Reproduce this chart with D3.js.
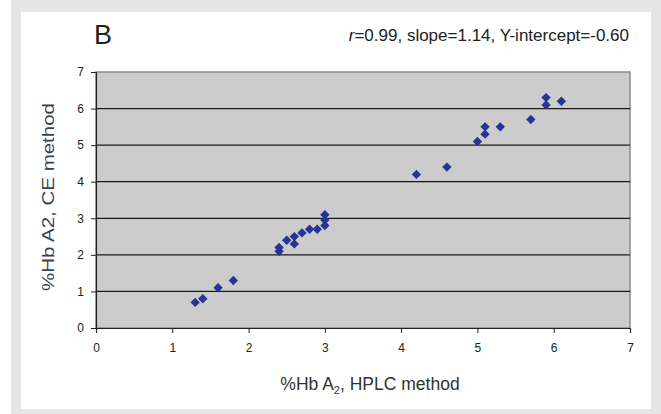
<!DOCTYPE html>
<html>
<head>
<meta charset="utf-8">
<script src="https://cdn.jsdelivr.net/npm/d3@7"></script>
<style>
  body { margin: 0; background: #fff; }
  text { font-family: "Liberation Sans", Arial, sans-serif; }
</style>
</head>
<body>
<svg></svg>
<script>
// %Hb A2 by HPLC (x) vs by CE (y)
const hplc = [1.3, 1.4, 1.6, 1.8, 2.4, 2.4, 2.5, 2.6, 2.6, 2.7, 2.8, 2.9, 3.0, 3.0, 3.0,
  4.2, 4.6, 5.0, 5.1, 5.1, 5.3, 5.7, 5.9, 5.9, 6.1];
const ce = [0.7, 0.8, 1.1, 1.3, 2.1, 2.2, 2.4, 2.3, 2.5, 2.6, 2.7, 2.7, 2.8, 2.95, 3.1,
  4.2, 4.4, 5.1, 5.3, 5.5, 5.5, 5.7, 6.1, 6.3, 6.2];
const xTicks = [0, 1, 2, 3, 4, 5, 6, 7];
const yTicks = [0, 1, 2, 3, 4, 5, 6, 7];

const width = 661;
const height = 414;
const marginLeft = 96;
const marginRight = 31;
const marginTop = 72;
const marginBottom = 86;

const svg = d3.select("svg").attr("width", width).attr("height", height);

// frame
svg.append("rect").attr("x", 11).attr("y", 0).attr("width", width - 11).attr("height", height).attr("fill", "#e6e6e6");
svg.append("rect").attr("x", 21).attr("y", 12).attr("width", 630).attr("height", 397).attr("fill", "#fff");

const x = d3.scaleLinear([0, 7], [marginLeft, width - marginRight]);
const y = d3.scaleLinear([0, 7], [height - marginBottom, marginTop]);

// plot area
svg.append("rect")
  .attr("x", x(0)).attr("y", y(7))
  .attr("width", x(7) - x(0)).attr("height", y(0) - y(7))
  .attr("fill", "#cccccc")
  .attr("stroke", "#8a8a8a").attr("stroke-width", 1.5);

// gridlines
svg.append("g")
  .selectAll("line")
  .data(yTicks.filter(d => d > 0 && d < 7))
  .enter()
  .append("line")
  .attr("x1", x(0)).attr("x2", x(7))
  .attr("y1", d => y(d)).attr("y2", d => y(d))
  .attr("stroke", "#1a1a1a").attr("stroke-width", 1.2);

const xAxis = svg.append("g")
  .attr("transform", `translate(0, ${y(0)})`)
  .call(d3.axisBottom(x).tickValues(xTicks).tickFormat(d3.format("d")).tickSize(5).tickPadding(10));

const yAxis = svg.append("g")
  .attr("transform", `translate(${x(0)},0)`)
  .call(d3.axisLeft(y).tickValues(yTicks).tickFormat(d3.format("d")).tickSize(5).tickPadding(7));

[xAxis, yAxis].forEach(g => {
  g.select(".domain").attr("stroke", "#222").attr("stroke-width", 1.2);
  g.selectAll(".tick line").attr("stroke", "#222");
  g.selectAll(".tick text").attr("font-size", 12).attr("fill", "#222")
    .attr("font-family", "Liberation Sans, Arial, sans-serif");
});

// points
svg.append("g")
  .selectAll("path")
  .data(hplc)
  .enter()
  .append("path")
  .attr("d", d3.symbol(d3.symbolSquare, 44))
  .attr("transform", (d, i) => `translate(${x(d)},${y(ce[i])}) rotate(45)`)
  .attr("fill", "#263592");

// titles
svg.append("text")
  .attr("x", 94).attr("y", 44)
  .attr("font-size", 27).attr("fill", "#222")
  .text("B");

const note = svg.append("text")
  .attr("x", 629).attr("y", 41)
  .attr("text-anchor", "end")
  .attr("font-size", 17).attr("fill", "#222");
note.append("tspan").attr("font-style", "italic").text("r");
note.append("tspan").text("=0.99, slope=1.14, Y-intercept=-0.60");

const xLabel = svg.append("text")
  .attr("x", 370).attr("y", 390)
  .attr("text-anchor", "middle")
  .attr("font-size", 17.5).attr("fill", "#333");
xLabel.append("tspan").text("%Hb A");
xLabel.append("tspan").attr("font-size", 11).attr("dy", 4).text("2");
xLabel.append("tspan").attr("dy", -4).text(", HPLC method");

svg.append("text")
  .attr("transform", `translate(54, 197) rotate(-90)`)
  .attr("text-anchor", "middle")
  .attr("font-size", 17).attr("fill", "#3a3f4f")
  .attr("textLength", 188).attr("lengthAdjust", "spacingAndGlyphs")
  .text("%Hb A2, CE method");
</script>
</body>
</html>
